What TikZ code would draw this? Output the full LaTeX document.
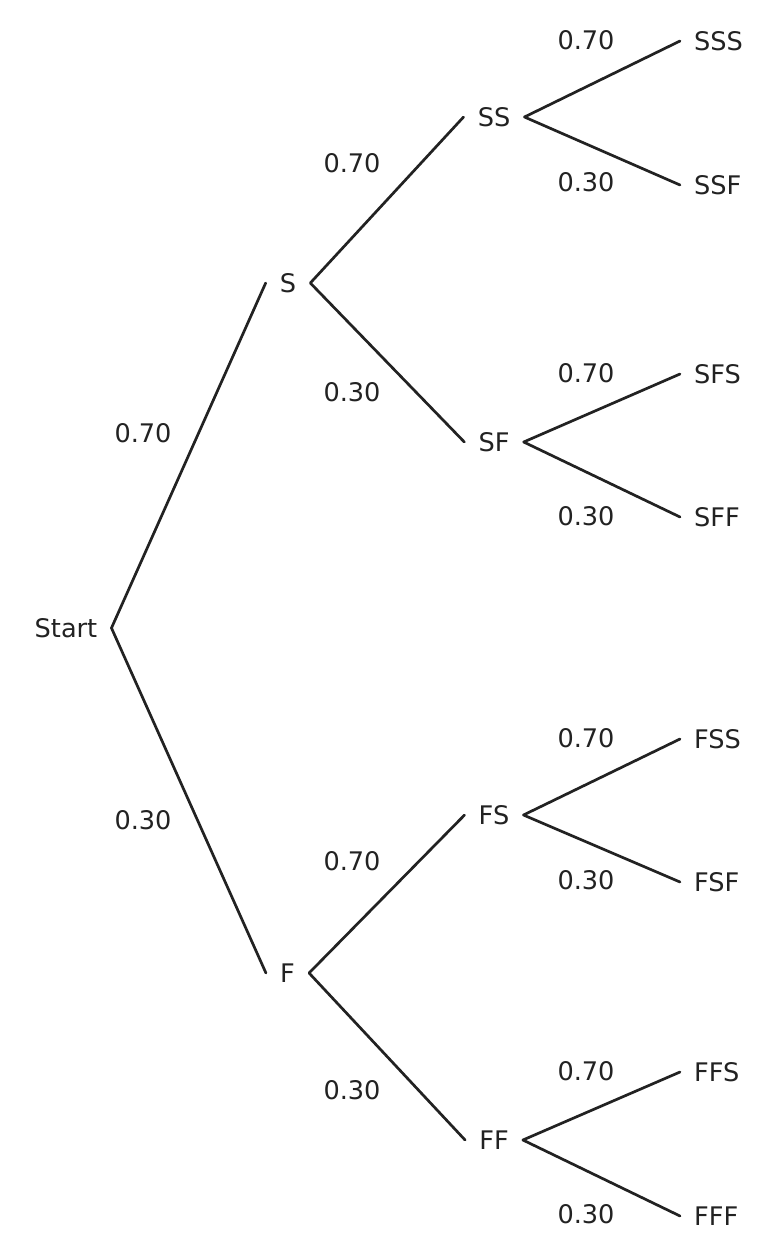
\documentclass[tikz,border=0pt]{standalone}
\usepackage{fontspec}
\setmainfont{DejaVu Sans}
\usepackage{tikz}
\usetikzlibrary{positioning}
\definecolor{treeink}{RGB}{34,34,34}

\begin{document}
\begin{tikzpicture}[x=1pt, y=-1pt,
    outcome/.style={inner xsep=14pt, inner ysep=0pt, text height=18pt, text depth=0pt, text=treeink, font=\fontsize{25.6}{30}\selectfont},
    leaf/.style={outcome, anchor=west},
    prob/.style={inner sep=0pt, text=treeink, font=\fontsize{25.6}{30}\selectfont},
    branch/.style={line width=2.7pt, draw=treeink, line cap=round, line join=round}]

    \useasboundingbox (0,0) rectangle (778,1259);

    % outcomes
    \node[outcome] (start) at (66,628) {Start};
    \node[outcome] (S) at (288,283) {S};
    \node[outcome] (F) at (287.5,973) {F};
    \node[outcome] (SS) at (494,117) {SS};
    \node[outcome] (SF) at (494,442) {SF};
    \node[outcome] (FS) at (494,815) {FS};
    \node[outcome] (FF) at (494,1140) {FF};
    \node[leaf] (SSS) at (680,41) {SSS};
    \node[leaf] (SSF) at (680,185) {SSF};
    \node[leaf] (SFS) at (680,374) {SFS};
    \node[leaf] (SFF) at (680,517) {SFF};
    \node[leaf] (FSS) at (680,739) {FSS};
    \node[leaf] (FSF) at (680,882) {FSF};
    \node[leaf] (FFS) at (680,1072) {FFS};
    \node[leaf] (FFF) at (680,1216) {FFF};

    % probabilities
    \node[prob] (pS) at (143,433) {0.70};
    \node[prob] (pF) at (143,820) {0.30};
    \node[prob] (pSS) at (352,163) {0.70};
    \node[prob] (pSF) at (352,392) {0.30};
    \node[prob] (pFS) at (352,861) {0.70};
    \node[prob] (pFF) at (352,1090) {0.30};
    \node[prob] (pSSS) at (586,40) {0.70};
    \node[prob] (pSSF) at (586,182) {0.30};
    \node[prob] (pSFS) at (586,373) {0.70};
    \node[prob] (pSFF) at (586,516) {0.30};
    \node[prob] (pFSS) at (586,738) {0.70};
    \node[prob] (pFSF) at (586,880) {0.30};
    \node[prob] (pFFS) at (586,1071) {0.70};
    \node[prob] (pFFF) at (586,1214) {0.30};

    % branches
    \draw[branch] (S.west) -- (start.east) -- (F.west);
    \draw[branch] (SS.west) -- (S.east) -- (SF.west);
    \draw[branch] (FS.west) -- (F.east) -- (FF.west);
    \draw[branch] (SSS.west) -- (SS.east) -- (SSF.west);
    \draw[branch] (SFS.west) -- (SF.east) -- (SFF.west);
    \draw[branch] (FSS.west) -- (FS.east) -- (FSF.west);
    \draw[branch] (FFS.west) -- (FF.east) -- (FFF.west);
\end{tikzpicture}
\end{document}
